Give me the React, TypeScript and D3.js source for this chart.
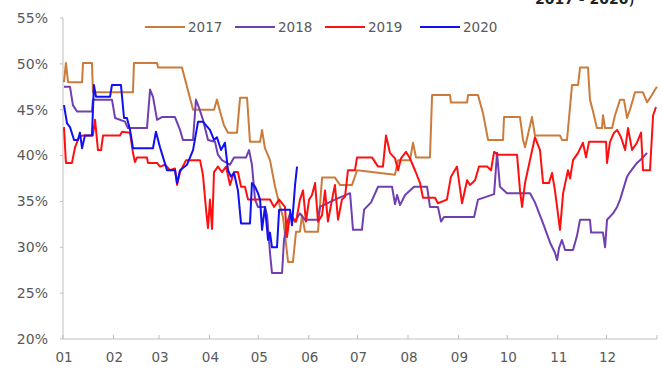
import React from "react";
import * as d3 from "d3";

// Day-of-year (0–365) and ratio in percent for each year
const series2017: [number, number][] = [
  [0.6, 48.0], [1.8, 50.1], [3.1, 48.0], [11.7, 48.0], [12.3, 50.1], [17.8, 50.1], [18.4, 46.9],
  [43.0, 46.9], [43.6, 50.1], [57.8, 50.1], [58.4, 49.6], [73.1, 49.6], [76.2, 47.5], [79.9, 45.0],
  [92.8, 45.0], [94.6, 46.1], [96.5, 44.8], [98.9, 43.3], [101.4, 42.5], [106.9, 42.5], [108.8, 46.3],
  [113.1, 46.3], [114.9, 41.5], [121.1, 41.5], [122.3, 42.8], [124.1, 40.8], [127.2, 39.5],
  [130.3, 36.6], [133.4, 34.4], [135.2, 33.3], [138.3, 28.4], [141.3, 28.4], [143.2, 31.7],
  [145.6, 31.7], [146.9, 33.5], [148.7, 31.7], [156.7, 31.7], [159.2, 37.6], [167.1, 37.6],
  [170.2, 36.8], [177.6, 36.8], [180.7, 38.4], [204.0, 37.9], [205.9, 39.5], [213.2, 39.5],
  [215.1, 41.4], [216.9, 39.8], [225.5, 39.8], [226.8, 46.6], [237.8, 46.6], [238.4, 45.8],
  [248.3, 45.8], [248.9, 46.6], [255.0, 46.6], [258.1, 44.6], [261.2, 41.7], [270.4, 41.7],
  [271.0, 44.2], [280.8, 44.2], [282.7, 41.7], [283.9, 40.9], [288.2, 44.2], [290.0, 42.2],
  [305.4, 42.2], [306.6, 41.7], [309.7, 41.7], [312.8, 47.7], [316.5, 47.7], [317.7, 49.6],
  [322.6, 49.6], [323.8, 46.1], [325.7, 44.8], [328.1, 43.0], [331.2, 43.0], [331.8, 44.4],
  [333.1, 43.0], [337.4, 43.0], [339.2, 44.4], [342.3, 46.1], [344.7, 46.1], [346.6, 44.1],
  [348.4, 45.0], [351.5, 46.9], [356.4, 46.9], [358.9, 45.8], [361.9, 46.6], [363.8, 47.2],
  [365, 47.5],
];

const series2018: [number, number][] = [
  [0.6, 47.5], [4.3, 47.5], [6.1, 45.5], [8.6, 44.8], [17.8, 44.8], [18.4, 46.1], [30.1, 46.1],
  [32.0, 44.1], [38.1, 43.7], [39.9, 43.0], [51.6, 43.0], [53.5, 47.2], [55.3, 46.4], [57.8, 43.9],
  [60.8, 44.2], [68.8, 44.2], [71.9, 42.8], [73.7, 41.7], [79.9, 41.7], [81.7, 46.1], [83.6, 45.2],
  [86.0, 43.9], [89.1, 41.7], [93.4, 41.5], [95.2, 40.1], [97.7, 39.5], [102.6, 39.0], [105.1, 39.8],
  [112.5, 39.8], [114.3, 40.6], [116.1, 39.0], [118.0, 35.2], [119.8, 34.4], [124.1, 34.4],
  [125.4, 33.5], [127.2, 29.4], [128.4, 27.2], [134.6, 27.2], [135.8, 30.8], [137.6, 32.6],
  [139.5, 33.7], [142.6, 32.8], [145.6, 33.7], [148.7, 33.0], [156.7, 33.0], [157.9, 34.4],
  [167.1, 35.2], [176.4, 35.9], [178.2, 31.9], [183.7, 31.9], [185.0, 34.1], [189.3, 34.9],
  [193.6, 36.6], [202.2, 36.6], [204.0, 34.7], [205.3, 35.7], [207.1, 34.6], [210.2, 35.7],
  [215.7, 36.6], [223.7, 36.6], [225.5, 34.4], [230.4, 34.4], [232.3, 32.8], [234.1, 33.3],
  [252.6, 33.3], [255.0, 35.2], [264.9, 35.8], [266.7, 40.3], [268.5, 36.6], [271.0, 36.2],
  [272.8, 35.9], [287.0, 35.9], [290.0, 34.9], [295.0, 32.6], [299.3, 30.5], [302.3, 29.4],
  [303.6, 28.6], [304.8, 29.9], [306.6, 30.8], [308.5, 29.7], [313.4, 29.7], [315.9, 31.3],
  [317.7, 33.0], [323.8, 33.0], [324.5, 31.6], [331.8, 31.6], [333.1, 30.0], [334.3, 33.0],
  [338.0, 33.7], [340.5, 34.4], [342.3, 35.2], [346.6, 37.7], [348.4, 38.2], [352.7, 39.2],
  [356.4, 39.8], [358.9, 40.3],
];

const series2019: [number, number][] = [
  [0.6, 43.1], [1.8, 39.2], [5.5, 39.2], [7.4, 40.9], [9.8, 42.0], [12.3, 42.2], [18.4, 42.2],
  [19.7, 43.9], [21.5, 40.6], [23.4, 40.6], [24.6, 42.2], [35.0, 42.2], [36.3, 42.6], [41.2, 42.5],
  [43.0, 40.3], [44.2, 39.3], [45.5, 39.8], [51.6, 39.8], [52.2, 39.2], [57.8, 39.2], [59.6, 38.8],
  [62.7, 39.0], [65.8, 38.4], [68.8, 38.6], [70.1, 36.8], [71.9, 38.2], [75.6, 39.5], [84.2, 39.5],
  [86.0, 37.9], [87.9, 34.1], [89.1, 32.1], [90.3, 35.2], [91.6, 32.0], [92.8, 38.2], [95.2, 38.8],
  [97.7, 38.2], [100.2, 38.8], [102.6, 36.8], [105.1, 38.2], [107.5, 38.2], [109.4, 36.6],
  [111.8, 36.6], [113.7, 35.2], [127.2, 35.2], [129.7, 34.4], [132.8, 35.2], [136.4, 34.4],
  [137.6, 31.1], [139.5, 33.5], [143.2, 32.8], [145.6, 35.2], [147.5, 36.2], [149.3, 32.8],
  [151.2, 35.2], [153.0, 35.7], [154.9, 37.0], [156.7, 32.8], [159.2, 33.5], [161.0, 36.2],
  [162.8, 32.8], [165.3, 35.2], [167.1, 36.8], [169.0, 33.0], [171.4, 35.2], [173.3, 35.5],
  [175.1, 38.4], [179.4, 38.4], [180.7, 39.8], [189.9, 39.8], [193.6, 38.8], [196.6, 38.8],
  [198.5, 42.2], [200.9, 40.3], [204.0, 39.7], [205.9, 38.4], [207.7, 39.7], [210.8, 40.4],
  [213.2, 39.7], [216.3, 38.4], [219.4, 37.0], [221.2, 35.4], [228.6, 35.4], [230.4, 34.8],
  [235.9, 35.2], [238.4, 37.7], [242.1, 38.8], [245.2, 34.8], [248.3, 37.3], [250.1, 36.8],
  [253.2, 37.3], [255.6, 38.8], [260.6, 38.8], [263.0, 38.4], [264.9, 40.4], [267.3, 40.1],
  [279.0, 40.1], [280.8, 36.2], [282.1, 34.4], [283.9, 37.0], [290.0, 42.0], [293.1, 40.6],
  [295.0, 37.0], [298.6, 37.0], [300.5, 38.1], [302.3, 36.2], [305.4, 31.9], [307.3, 35.9],
  [310.3, 38.4], [311.6, 37.5], [313.4, 39.5], [316.5, 40.3], [319.5, 41.4], [321.4, 39.8],
  [323.2, 41.5], [333.7, 41.5], [334.3, 39.2], [336.1, 41.5], [338.6, 42.5], [340.5, 42.8],
  [342.9, 42.0], [345.4, 40.6], [347.2, 43.0], [349.7, 40.6], [352.7, 41.4], [355.2, 42.5],
  [356.4, 38.4], [360.7, 38.4], [362.6, 44.4], [364.4, 45.3],
];

const series2020: [number, number][] = [
  [0.6, 45.5], [2.5, 43.5], [4.3, 43.1], [6.8, 41.7], [9.2, 41.7], [10.4, 42.5], [11.7, 40.8],
  [13.5, 42.2], [17.8, 42.2], [19.0, 47.7], [20.3, 46.4], [28.9, 46.4], [30.1, 47.7], [35.6, 47.7],
  [37.5, 44.1], [39.3, 44.1], [41.2, 42.8], [43.0, 40.8], [55.3, 40.8], [57.1, 42.6], [59.6, 40.9],
  [61.5, 39.8], [63.9, 38.4], [68.8, 38.4], [70.1, 37.0], [71.9, 38.4], [76.2, 39.0], [79.9, 40.6],
  [83.0, 43.7], [86.0, 43.7], [87.9, 43.3], [90.3, 42.8], [92.8, 41.7], [94.6, 42.0], [97.1, 40.6],
  [99.5, 41.4], [101.4, 38.4], [103.2, 37.7], [105.1, 38.1], [107.5, 36.2], [109.4, 32.6],
  [114.9, 32.6], [116.1, 37.0], [118.0, 36.6], [119.8, 35.9], [121.1, 35.2], [122.3, 31.9],
  [124.1, 34.4], [126.0, 30.8], [127.2, 31.6], [128.4, 30.0], [131.5, 30.0], [132.8, 34.1],
  [139.5, 34.1], [140.7, 32.4], [142.6, 36.8], [143.8, 38.8],
];

const seriesNames = ["2017", "2018", "2019", "2020"];
const seriesColors = ["#CB7C3C", "#7040B0", "#FF1010", "#1010F0"];
const yTicks = [20, 25, 30, 35, 40, 45, 50, 55];
const monthLabels = ["01", "02", "03", "04", "05", "06", "07", "08", "09", "10", "11", "12"];
const subtitle = "2017 - 2020）";

const W = 662;
const H = 374;
const M = { left: 63, right: 5, top: 18, bottom: 35 };

export default function App() {
  const x = d3.scaleLinear().domain([0, 365]).range([M.left, W - M.right]);
  const y = d3.scaleLinear().domain([20, 55]).range([H - M.bottom, M.top]);

  // month starts as day-of-year, based on a non-leap calendar
  const yearStart = new Date(2019, 0, 1);
  const monthStarts = d3
    .timeMonth.range(yearStart, new Date(2020, 0, 1))
    .map((d) => d3.timeDay.count(yearStart, d));

  const line = d3
    .line<[number, number]>()
    .x((d) => x(d[0]))
    .y((d) => y(d[1]));

  const allSeries = [series2017, series2018, series2019, series2020];
  const font = "'DejaVu Sans', sans-serif";
  const textColor = "#595959";
  const axisColor = "#BFBFBF";

  // legend layout
  const legendX = [145, 235, 325, 420];

  return (
    <svg
      width={W}
      height={H}
      style={{ position: "absolute", left: 0, top: 0, background: "#fff" }}
      fontFamily={font}
    >
      <text x={535} y={4} fontSize={14} fontWeight="bold" fill="#222">
        {subtitle}
      </text>

      {/* y axis */}
      <line x1={x(0)} x2={x(0)} y1={y(55)} y2={y(20)} stroke={axisColor} strokeWidth={1} />
      {yTicks.map((t) => (
        <g key={t}>
          <line x1={x(0) - 3} x2={x(0)} y1={y(t)} y2={y(t)} stroke={axisColor} />
          <text
            x={48}
            y={y(t)}
            dy="0.35em"
            textAnchor="end"
            fontSize={14}
            fill={textColor}
          >
            {t}%
          </text>
        </g>
      ))}

      {/* x axis */}
      <line x1={x(0)} x2={x(365)} y1={y(20)} y2={y(20)} stroke={axisColor} strokeWidth={1} />
      {[...monthStarts, 365].map((d, i) => (
        <line key={i} x1={x(d)} x2={x(d)} y1={y(20) - 4} y2={y(20)} stroke={axisColor} />
      ))}
      {monthStarts.map((d, i) => (
        <text
          key={i}
          x={x(d) + 1}
          y={y(20) + 23}
          textAnchor="middle"
          fontSize={13.5}
          fill={textColor}
        >
          {monthLabels[i]}
        </text>
      ))}

      {/* series */}
      {allSeries.map((s, i) => (
        <path
          key={seriesNames[i]}
          d={line(s) || ""}
          fill="none"
          stroke={seriesColors[i]}
          strokeWidth={2}
          strokeLinejoin="round"
        />
      ))}

      {/* legend */}
      {seriesNames.map((n, i) => (
        <g key={n}>
          <line
            x1={legendX[i]}
            x2={legendX[i] + 40}
            y1={27}
            y2={27}
            stroke={seriesColors[i]}
            strokeWidth={2}
          />
          <text x={legendX[i] + 43} y={27} dy="0.35em" fontSize={13.5} fill={textColor}>
            {n}
          </text>
        </g>
      ))}
    </svg>
  );
}
